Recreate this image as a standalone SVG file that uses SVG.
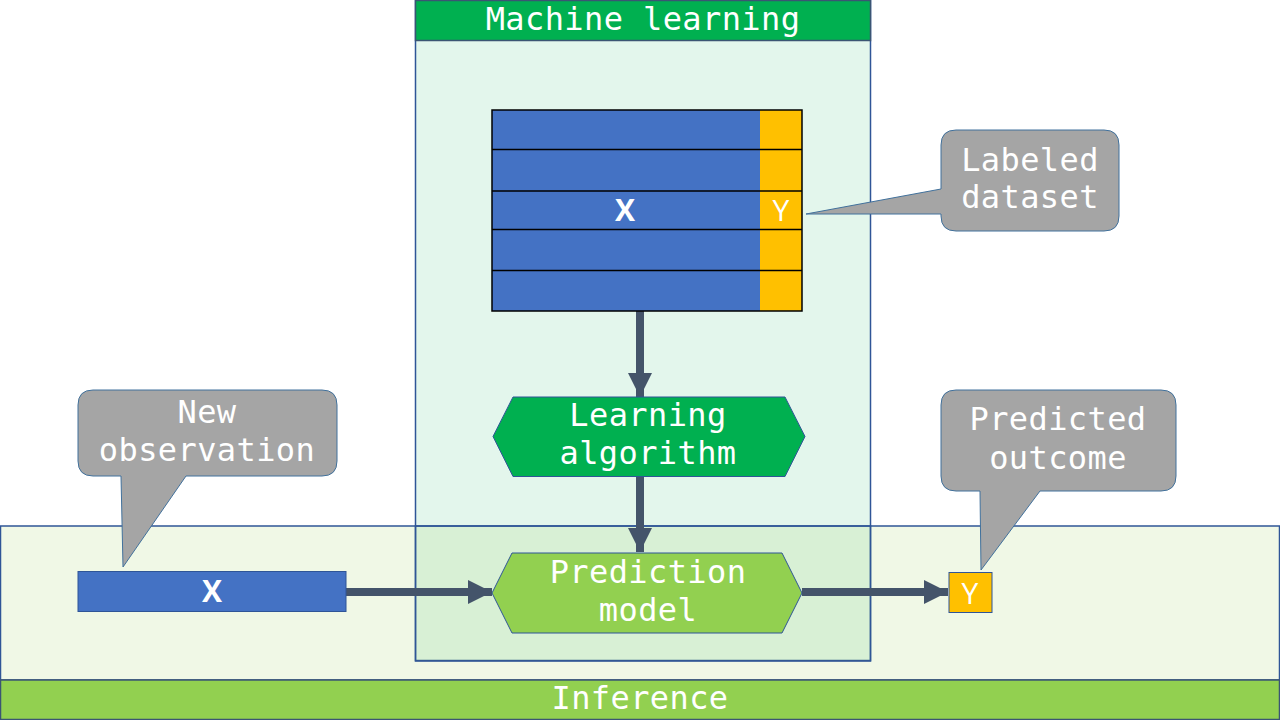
<svg xmlns="http://www.w3.org/2000/svg" width="1280" height="720" viewBox="0 0 1280 720">
<defs>
<style>
.t{font-family:"DejaVu Sans Mono","Liberation Mono",monospace;font-size:32px;letter-spacing:0.4px;fill:#fff;text-anchor:middle;dominant-baseline:central}
.b{font-family:"Open Sans","DejaVu Sans",sans-serif;font-size:30px;font-weight:bold;fill:#fff;text-anchor:middle;dominant-baseline:central}
.y{font-family:"Open Sans","DejaVu Sans",sans-serif;font-size:30px;fill:#fff;text-anchor:middle;dominant-baseline:central}
.call{fill:#A5A5A5;stroke:#41719C;stroke-width:1}
.conn{stroke:#44546A;stroke-width:8;fill:none}
</style>
<marker id="ah" markerUnits="userSpaceOnUse" markerWidth="26" markerHeight="26" viewBox="0 0 26 26" refX="24" refY="13" orient="auto">
<path d="M0,1 L24,13 L0,25 Z" fill="#44546A"/>
</marker>
</defs>
<rect width="1280" height="720" fill="#fff"/>
<g id="ml-panel">
<rect x="415.5" y="0.5" width="455" height="660" fill="#00B050" fill-opacity="0.11" stroke="#2F5597" stroke-width="1.5"/>
</g>
<g id="inference-panel">
<rect x="0.5" y="526" width="1279" height="154" fill="#92D050" fill-opacity="0.14" stroke="#2F5597" stroke-width="1.5"/>
<rect x="415.5" y="526" width="455" height="135" fill="none" stroke="#2F5597" stroke-width="1.5"/>
</g>
<g id="ml-header">
<rect x="415.5" y="0.5" width="455" height="40" fill="#00B050" stroke="#3B5573" stroke-width="1.5"/>
<text class="t" x="643" y="19">Machine learning</text>
</g>
<g id="inference-header">
<rect x="0.5" y="680" width="1279" height="39.5" fill="#92D050" stroke="#3B5573" stroke-width="1.5"/>
<text class="t" x="640" y="698">Inference</text>
</g>
<g id="connectors">
<line class="conn" x1="640" y1="311" x2="640" y2="397" marker-end="url(#ah)"/>
<line class="conn" x1="640" y1="477" x2="640" y2="552" marker-end="url(#ah)"/>
<line class="conn" x1="346" y1="592" x2="492" y2="592" marker-end="url(#ah)"/>
<line class="conn" x1="802" y1="592" x2="948" y2="592" marker-end="url(#ah)"/>
</g>
<g id="dataset">
<rect x="492" y="110" width="268" height="201" fill="#4472C4"/>
<rect x="760" y="110" width="42" height="201" fill="#FFC000"/>
<g stroke="#000" stroke-width="1.5" fill="none">
<rect x="492" y="110" width="310" height="201"/>
<line x1="492" y1="149.5" x2="802" y2="149.5"/>
<line x1="492" y1="191" x2="802" y2="191"/>
<line x1="492" y1="229.5" x2="802" y2="229.5"/>
<line x1="492" y1="270.5" x2="802" y2="270.5"/>
</g>
<text class="b" x="625" y="209">X</text>
<text class="y" x="781" y="209">Y</text>
</g>
<g id="labeled-dataset">
<path class="call" d="M956,130 H1104 Q1119,130 1119,145 V216 Q1119,231 1104,231 H956 Q941,231 941,216 V214 L806,214 L941,189 V145 Q941,130 956,130 Z"/>
<text class="t" x="1030" y="160">Labeled</text>
<text class="t" x="1030" y="197">dataset</text>
</g>
<g id="learning-algorithm">
<polygon points="493,436.5 513,397 785,397 805,436.5 785,476.5 513,476.5" fill="#00B050" stroke="#2F5597" stroke-width="1"/>
<text class="t" x="648" y="415">Learning</text>
<text class="t" x="648" y="453">algorithm</text>
</g>
<g id="prediction-model">
<polygon points="492,593 512,553 782,553 802,593 782,633 512,633" fill="#92D050" stroke="#2F5597" stroke-width="1"/>
<text class="t" x="648" y="572">Prediction</text>
<text class="t" x="648" y="610">model</text>
</g>
<g id="new-x">
<rect x="78" y="571.5" width="268" height="40" fill="#4472C4" stroke="#2F5597" stroke-width="1"/>
<text class="b" x="212" y="590">X</text>
</g>
<g id="predicted-y">
<rect x="949" y="572.5" width="43" height="40" fill="#FFC000" stroke="#2F5597" stroke-width="1"/>
<text class="y" x="970" y="592">Y</text>
</g>
<g id="new-observation">
<path class="call" d="M93,390 H322 Q337,390 337,405 V461 Q337,476 322,476 H186 L123,567 L121,476 H93 Q78,476 78,461 V405 Q78,390 93,390 Z"/>
<text class="t" x="207" y="412">New</text>
<text class="t" x="207" y="450">observation</text>
</g>
<g id="predicted-outcome">
<path class="call" d="M956,390 H1161 Q1176,390 1176,405 V476 Q1176,491 1161,491 H1040 L981,570 L980,491 H956 Q941,491 941,476 V405 Q941,390 956,390 Z"/>
<text class="t" x="1058" y="419">Predicted</text>
<text class="t" x="1058" y="458">outcome</text>
</g>
</svg>
